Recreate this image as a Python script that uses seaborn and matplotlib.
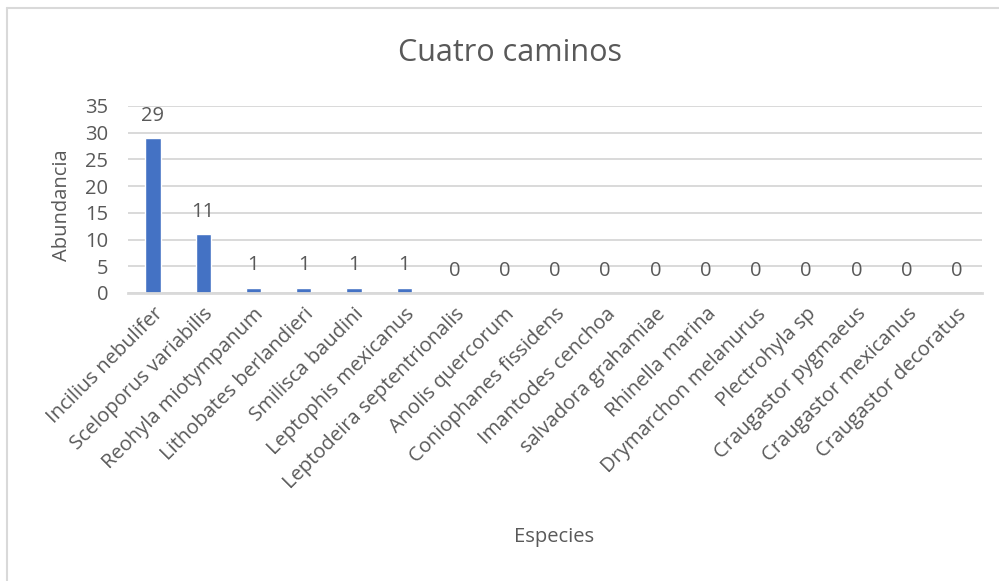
import matplotlib
matplotlib.use("Agg")
import matplotlib.pyplot as plt
import seaborn as sns
import pandas as pd
from matplotlib.lines import Line2D

species = [
    "Incilius nebulifer", "Sceloporus variabilis", "Reohyla miotympanum",
    "Lithobates berlandieri", "Smilisca baudini", "Leptophis mexicanus",
    "Leptodeira septentrionalis", "Anolis quercorum", "Coniophanes fissidens",
    "Imantodes cenchoa", "salvadora grahamiae", "Rhinella marina",
    "Drymarchon melanurus", "Plectrohyla sp", "Craugastor pygmaeus",
    "Craugastor mexicanus", "Craugastor decoratus",
]
abundance = [29, 11, 1, 1, 1, 1, 0, 0, 0, 0, 0, 0, 0, 0, 0, 0, 0]
y_ticks = [0, 5, 10, 15, 20, 25, 30, 35]

df = pd.DataFrame({"Especies": species, "Abundancia": abundance})

sns.set_theme(style="white")
plt.rcParams["font.family"] = ["Open Sans", "DejaVu Sans"]
text_color = "#595959"
grid_color = "#d9d9d9"
bar_color = "#4472c4"
fs = 14.5

fig = plt.figure(figsize=(9.99, 5.81), dpi=100)
ax = fig.add_axes([0.128, 0.4957, 0.855, 0.3219])

sns.barplot(data=df, x="Especies", y="Abundancia", color=bar_color,
            width=0.3, saturation=1, ax=ax, zorder=3)

ax.set_ylim(0, 35)
ax.set_yticks(y_ticks)
ax.set_yticklabels([str(t) for t in y_ticks], fontsize=fs, color=text_color)
ax.yaxis.grid(True, color=grid_color, linewidth=1.4, zorder=0)
ax.set_axisbelow(True)
for side in ["top", "right", "left"]:
    ax.spines[side].set_visible(False)
ax.spines["bottom"].set_color(grid_color)
ax.spines["bottom"].set_linewidth(2)
ax.spines["bottom"].set_zorder(4)
ax.tick_params(axis="y", length=0, pad=14)

ax.set_xticks(range(len(species)))
ax.set_xticklabels(species, rotation=45, ha="right", va="top",
                   rotation_mode="anchor", fontsize=fs, color=text_color)
ax.tick_params(axis="x", length=0, pad=8)

# value labels above each bar
for i, v in enumerate(abundance):
    ax.annotate(str(v), xy=(i, v), xytext=(0, 12.5), textcoords="offset points",
                ha="center", va="baseline", fontsize=fs, color=text_color)

ax.set_xlabel("")
ax.set_ylabel("")
fig.text(0.555, 1 - 537 / 581, "Especies", ha="center", va="center",
         fontsize=fs, color=text_color)
fig.text(62 / 999, 1 - 205 / 581, "Abundancia", ha="center", va="center",
         rotation=90, fontsize=fs, color=text_color)
fig.text(510 / 999, 1 - 53 / 581, "Cuatro caminos", ha="center", va="center",
         fontsize=22, color=text_color)

# chart-area frame (top and left edges)
fig.add_artist(Line2D([7 / 999, 7 / 999], [0, 1 - 8 / 581],
                      transform=fig.transFigure, color=grid_color, linewidth=1.5))
fig.add_artist(Line2D([7 / 999, 1], [1 - 8 / 581, 1 - 8 / 581],
                      transform=fig.transFigure, color=grid_color, linewidth=1.5))

fig.savefig("out.png", dpi=100, facecolor="white")
